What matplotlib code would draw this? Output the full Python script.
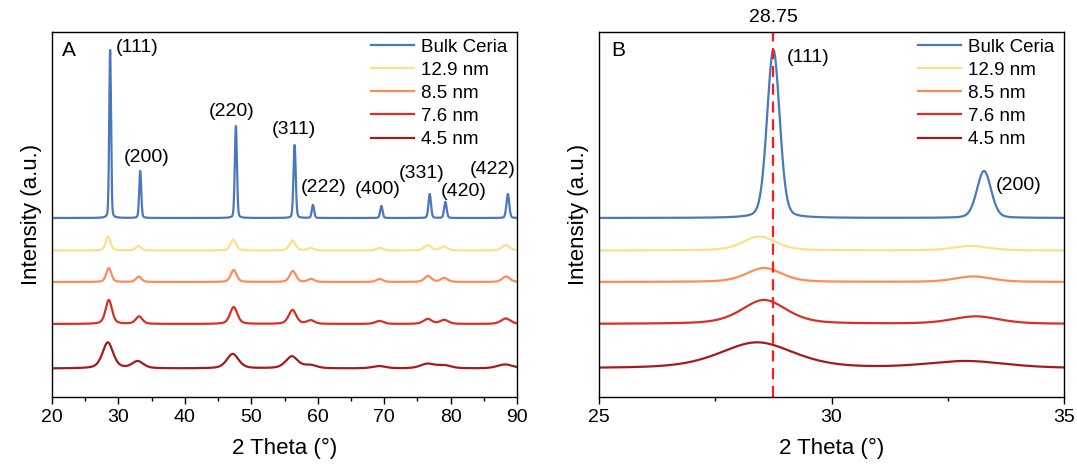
import numpy as np
import matplotlib
matplotlib.use("Agg")
import matplotlib.pyplot as plt
from matplotlib.ticker import MultipleLocator

plt.rcParams['font.family'] = ['Liberation Sans', 'DejaVu Sans']

# ---- data: peak parameters ----
labels = ['Bulk Ceria', '12.9 nm', '8.5 nm', '7.6 nm', '4.5 nm']
colors = ['#4A78BD', '#FEE08B', '#FC8D59', '#D73027', '#A11D1D']
offsets = [179, 146.5, 115, 73, 28.5]
hkl = ['(111)', '(200)', '(220)', '(311)', '(222)', '(400)', '(331)', '(420)', '(422)']

bulk_pos = [28.75, 33.28, 47.68, 56.52, 59.28, 69.58, 76.86, 79.22, 88.62]
bulk_h = [168, 47, 92, 73, 13, 12, 24, 16, 24]
bulk_w = [0.32, 0.36, 0.38, 0.40, 0.40, 0.42, 0.45, 0.45, 0.50]

n129_pos = [28.45, 33.0, 47.3, 56.2, 58.95, 69.3, 76.55, 79.0, 88.3]
n129_h = [14, 4.5, 11, 10, 2.5, 2.5, 5.5, 4, 5.5]
n129_w = [0.85, 0.9, 1.0, 1.05, 1.05, 1.15, 1.2, 1.2, 1.35]

n85_pos = [28.55, 33.05, 47.35, 56.25, 59.0, 69.3, 76.6, 79.05, 88.35]
n85_h = [14, 5.5, 12, 11, 3, 3, 6, 4, 5.5]
n85_w = [0.9, 0.95, 1.05, 1.1, 1.1, 1.2, 1.25, 1.25, 1.4]

n76_pos = [28.55, 33.1, 47.35, 56.2, 58.95, 69.3, 76.55, 79.05, 88.3]
n76_h = [24, 7.5, 17, 14, 3.5, 3, 5, 4, 5.5]
n76_w = [1.15, 1.2, 1.3, 1.35, 1.35, 1.5, 1.5, 1.5, 1.7]

n45_pos = [28.4, 32.9, 47.2, 56.1, 58.9, 69.2, 76.5, 79.0, 88.2]
n45_h = [26, 7, 14.5, 12, 3, 2.3, 4.5, 3, 4]
n45_w = [1.9, 2.0, 2.1, 2.2, 2.2, 2.4, 2.5, 2.5, 2.8]

etas = [0.2, 0.4, 0.4, 0.45, 0.45]
samples = [(bulk_pos, bulk_h, bulk_w), (n129_pos, n129_h, n129_w),
           (n85_pos, n85_h, n85_w), (n76_pos, n76_h, n76_w),
           (n45_pos, n45_h, n45_w)]

ref_line = 28.75


def pattern(x, pos, h, w, eta):
    y = np.zeros_like(x)
    for c, a, f in zip(pos, h, w):
        s = f / 2.3548
        g = np.exp(-0.5 * ((x - c) / s) ** 2)
        l = 1.0 / (1.0 + ((x - c) / (f / 2)) ** 2)
        y += a * (eta * l + (1 - eta) * g)
    return y


fig = plt.figure(figsize=(10.77, 4.66), dpi=100)
axA = fig.add_axes([52 / 1077, 1 - 397 / 466, 465 / 1077, 365 / 466])
axB = fig.add_axes([599 / 1077, 1 - 397 / 466, 465 / 1077, 365 / 466])

xA = np.linspace(20, 90, 7001)
xB = np.linspace(25, 35, 3001)
for (pos, h, w), lab, col, off, eta in zip(samples, labels, colors, offsets, etas):
    axA.plot(xA, off + pattern(xA, pos, h, w, eta), color=col, lw=1.6, label=lab)
    axB.plot(xB, off + pattern(xB, pos, h, w, eta), color=col, lw=1.6, label=lab)

for ax, (x0, x1), maj, mnr in [(axA, (20, 90), 10, 5), (axB, (25, 35), 5, 2.5)]:
    ax.set_xlim(x0, x1)
    ax.set_ylim(0, 365)
    ax.xaxis.set_major_locator(MultipleLocator(maj))
    ax.xaxis.set_minor_locator(MultipleLocator(mnr))
    ax.tick_params(axis='x', which='major', direction='out', length=5, width=1, labelsize=14, pad=4)
    ax.tick_params(axis='x', which='minor', direction='out', length=3, width=1)
    ax.set_yticks([])
    for sp in ax.spines.values():
        sp.set_linewidth(1.0)
    ax.set_xlabel('2 Theta (°)', fontsize=16, labelpad=8)
    ax.set_ylabel('Intensity (a.u.)', fontsize=16, labelpad=7)
    ax.legend(loc='upper right', frameon=False, fontsize=13.5, handlelength=2.3,
              handletextpad=0.4, labelspacing=0.32, borderaxespad=0.1,
              bbox_to_anchor=(1.0, 1.008))

# panel A annotations
annA = [(32.8, 349), (34.26, 240), (47.1, 285), (56.43, 267), (60.95, 209),
        (69.07, 207), (75.7, 224), (82.0, 205), (86.4, 227)]
for t, (tx, ty) in zip(hkl, annA):
    axA.text(tx, ty, t, fontsize=14, ha='center', va='center')
axA.text(0.037, 0.95, 'A', transform=axA.transAxes, fontsize=15, ha='center', va='center')

# panel B
axB.axvline(ref_line, color='#FF1A1A', lw=1.6, ls=(0, (5, 3)))
axB.text(ref_line, 380, f'{ref_line:.2f}', fontsize=14, ha='center', va='center', clip_on=False)
axB.text(29.49, 340, hkl[0], fontsize=14, ha='center', va='center')
axB.text(34.03, 211, hkl[1], fontsize=14, ha='center', va='center')
axB.text(0.042, 0.95, 'B', transform=axB.transAxes, fontsize=15, ha='center', va='center')

fig.savefig('out.png', dpi=100)
